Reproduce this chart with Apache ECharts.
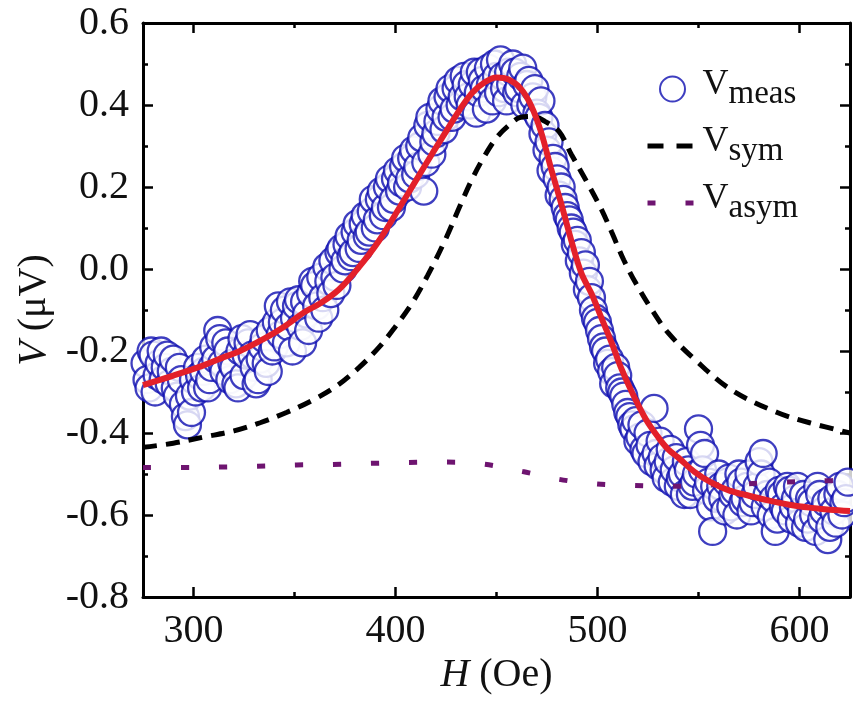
<!DOCTYPE html>
<html>
<head>
<meta charset="utf-8">
<script src="https://cdn.jsdelivr.net/npm/echarts@6/dist/echarts.min.js"></script>
<style>html,body{margin:0;padding:0;background:#fff;}#c{width:853px;height:705px;}</style>
</head>
<body>
<div id="c"></div>
<script>
// ---- data ----
const measH = [276,278,280,282,284,286,288,290,292,294,296,297,298,300,302,304,306,308,310,312,314,316,318,320,322,324,326,328,330,332,334,336,338,340,342,344,346,348,350,352,354,356,358,360,362,364,366,368,370,372,374,376,378,380,382,384,386,388,390,392,394,396,398,400,402,404,406,408,410,412,414,416,418,420,422,424,426,428,430,432,434,436,438,440,442,444,446,448,450,452,454,456,458,460,462,464,466,468,470,472,474,476,478,480,482,484,486,488,490,492,494,496,497,498,500,502,504,506,508,510,512,514,516,518,520,522,524,526,528,530,532,534,536,538,540,542,544,546,548,550,551,552,554,556,557,558,560,562,564,566,568,570,572,574,576,578,580,582,584,586,588,590,592,594,596,598,600,602,604,606,608,610,612,614,616,618,620,622,624];
const measV = [-0.23,-0.29,-0.21,-0.26,-0.20,-0.24,-0.28,-0.22,-0.31,-0.27,-0.36,-0.38,-0.31,-0.27,-0.24,-0.29,-0.22,-0.27,-0.19,-0.15,-0.23,-0.18,-0.27,-0.24,-0.29,-0.17,-0.21,-0.16,-0.24,-0.27,-0.19,-0.23,-0.15,-0.19,-0.09,-0.13,-0.18,-0.08,-0.12,-0.075,-0.18,-0.11,-0.06,-0.04,-0.12,-0.07,0.005,-0.06,-0.02,0.04,0.00,0.06,0.03,0.09,0.05,0.11,0.08,0.14,0.10,0.17,0.13,0.20,0.15,0.22,0.19,0.25,0.20,0.27,0.23,0.30,0.19,0.35,0.28,0.33,0.39,0.34,0.42,0.37,0.44,0.40,0.47,0.42,0.45,0.38,0.48,0.44,0.49,0.41,0.47,0.51,0.44,0.48,0.50,0.43,0.47,0.40,0.46,0.42,0.38,0.41,0.35,0.31,0.27,0.22,0.20,0.15,0.12,0.09,0.07,0.04,0.01,-0.03,-0.07,-0.10,-0.13,-0.17,-0.20,-0.22,-0.28,-0.26,-0.30,-0.33,-0.36,-0.39,-0.42,-0.38,-0.45,-0.43,-0.34,-0.48,-0.46,-0.51,-0.44,-0.49,-0.53,-0.50,-0.47,-0.55,-0.52,-0.39,-0.43,-0.49,-0.54,-0.58,-0.64,-0.53,-0.50,-0.56,-0.52,-0.58,-0.54,-0.50,-0.57,-0.53,-0.59,-0.55,-0.47,-0.45,-0.55,-0.60,-0.64,-0.54,-0.58,-0.53,-0.61,-0.56,-0.62,-0.55,-0.61,-0.57,-0.64,-0.55,-0.59,-0.66,-0.56,-0.62,-0.53,-0.57,-0.52];
// second sweep of measured points (H, V)
const meas2 = [[277,-0.27],[279,-0.20],[281,-0.30],[283,-0.23],[285,-0.27],[287,-0.21],[289,-0.25],[291,-0.29],[293,-0.24],[295,-0.33],
[299,-0.35],[301,-0.30],[303,-0.26],[305,-0.25],[307,-0.29],[309,-0.24],[311,-0.22],[313,-0.17],[315,-0.25],[317,-0.20],
[319,-0.23],[321,-0.28],[323,-0.20],[325,-0.26],[327,-0.18],[329,-0.21],[331,-0.28],[333,-0.22],[335,-0.17],[337,-0.25],
[339,-0.20],[341,-0.13],[343,-0.16],[345,-0.10],[347,-0.14],[349,-0.20],[351,-0.09],[353,-0.14],[355,-0.08],[357,-0.15],
[359,-0.03],[361,-0.09],[363,-0.02],[365,-0.10],[367,-0.03],[369,0.02],[371,-0.04],[373,0.05],[375,0.02],[377,0.08],
[379,0.04],[381,0.11],[383,0.07],[385,0.13],[387,0.09],[389,0.17],[391,0.12],[393,0.19],[395,0.15],[397,0.22],
[399,0.17],[401,0.24],[403,0.21],[405,0.27],[407,0.22],[409,0.29],[411,0.25],[413,0.32],[415,0.26],[417,0.37],
[419,0.31],[421,0.36],[423,0.41],[425,0.37],[427,0.44],[429,0.39],[431,0.46],[433,0.42],[435,0.45],[437,0.40],
[439,0.48],[441,0.43],[443,0.46],[445,0.39],[447,0.45],[449,0.50],[451,0.43],[453,0.47],[455,0.41],[457,0.45],
[459,0.48],[461,0.44],[463,0.49],[465,0.45],[467,0.40],[469,0.44],[471,0.37],[473,0.33],[475,0.29],[477,0.24],
[479,0.25],[481,0.18],[483,0.17],[485,0.13],[487,0.10],[489,0.06],[491,0.02],[493,-0.01],[495,-0.05],[499,-0.12],
[501,-0.15],[503,-0.19],[505,-0.23],[507,-0.25],[509,-0.24],[511,-0.29],[513,-0.31],[515,-0.35],[517,-0.38],[519,-0.37],
[521,-0.41],[523,-0.44],[525,-0.40],[527,-0.47],[529,-0.45],[531,-0.42],[533,-0.49],[535,-0.47],[537,-0.52],[539,-0.46],
[541,-0.51],[543,-0.55],[545,-0.49],[547,-0.53],[549,-0.50],[553,-0.45],[555,-0.52],[559,-0.56],[561,-0.53],[563,-0.59],
[565,-0.51],[567,-0.55],[569,-0.60],[571,-0.52],[573,-0.56],[575,-0.50],[577,-0.57],[579,-0.53],[581,-0.50],[583,-0.58],
[585,-0.52],[587,-0.56],[589,-0.61],[591,-0.55],[593,-0.59],[595,-0.54],[597,-0.58],[599,-0.53],[601,-0.59],[603,-0.63],
[605,-0.56],[607,-0.60],[609,-0.53],[611,-0.61],[613,-0.57],[615,-0.63],[617,-0.59],[619,-0.55],[621,-0.60],[623,-0.56]];

const fitH = [275,290,305,315,323,335,345,355,363,372,382,392,402,410,418,425,432,438,444,450,456,462,467,472,477,482,487,492,497,502,507,512,517,524,530,535,540,548,556,565,575,585,595,605,615,625];
const fitV = [-0.283,-0.26,-0.235,-0.215,-0.20,-0.17,-0.14,-0.105,-0.083,-0.05,0.005,0.07,0.15,0.215,0.28,0.335,0.39,0.43,0.455,0.467,0.462,0.44,0.40,0.335,0.245,0.16,0.07,-0.01,-0.06,-0.12,-0.18,-0.245,-0.30,-0.367,-0.41,-0.44,-0.46,-0.495,-0.52,-0.54,-0.553,-0.565,-0.575,-0.582,-0.587,-0.59];

const symH = [275,290,305,320,333,346,359,371,382,392,400,408,416,425,432,438,444,450,456,462,468,474,481,487,495,502,507,513,519,527,535,548,566,589,605,625];
const symV = [-0.435,-0.425,-0.41,-0.395,-0.375,-0.35,-0.32,-0.285,-0.24,-0.19,-0.14,-0.085,-0.015,0.075,0.155,0.22,0.275,0.32,0.35,0.37,0.372,0.36,0.335,0.28,0.21,0.145,0.09,0.022,-0.035,-0.10,-0.156,-0.22,-0.294,-0.35,-0.375,-0.40];

const asymH = [275,294,313,331,351,369,388,406,425,444,463,481,499,517,536,555,573,592,610,625];
const asymV = [-0.484,-0.484,-0.483,-0.481,-0.478,-0.477,-0.474,-0.472,-0.471,-0.476,-0.494,-0.513,-0.524,-0.528,-0.53,-0.527,-0.524,-0.52,-0.517,-0.515];

const xMajor = [300,400,500,600];
const xMinor = [350,450,550];

const zip = (a, b) => a.map((v, i) => [v, b[i]]);
const FONT = 'Liberation Serif';

const measData = zip(measH, measV).concat(meas2).sort((a, b) => a[0] - b[0]);

const chart = echarts.init(document.getElementById('c'), null, {renderer: 'canvas'});

const baseX = {type: 'value', min: 275, max: 625, gridIndex: 0, splitLine: {show: false}};
const lineAx = {show: true, onZero: false, lineStyle: {color: '#000', width: 3}};
const option = {
  animation: false,
  backgroundColor: '#fff',
  grid: {left: 143, right: 3, top: 23, bottom: 108, containLabel: false},
  legend: {
    data: [
      {name: 'Vmeas'},
      {name: 'Vsym', itemStyle: {opacity: 0}, lineStyle: {width: 5, type: [16, 13]}},
      {name: 'Vasym', itemStyle: {opacity: 0}, lineStyle: {width: 5}}
    ],
    orient: 'vertical',
    left: 645, top: 67,
    padding: 0, itemGap: 13,
    itemWidth: 50, itemHeight: 25,
    formatter: n => '{v|V}{s|' + n.slice(1) + '}',
    textStyle: {
      fontFamily: FONT, color: '#111',
      rich: {
        v: {fontSize: 36, fontFamily: FONT, lineHeight: 44, verticalAlign: 'top', color: '#111'},
        s: {fontSize: 33, fontFamily: FONT, lineHeight: 44, verticalAlign: 'bottom', color: '#111'}
      }
    }
  },
  xAxis: [
    Object.assign({}, baseX, {
      position: 'bottom',
      axisLine: lineAx,
      axisTick: {show: true, inside: true, length: 10, lineStyle: {color: '#000', width: 2.5}, customValues: xMajor},
      axisLabel: {show: true, margin: 14, fontSize: 40, fontFamily: FONT, color: '#111', customValues: xMajor},
      name: '{i|H} (Oe)',
      nameLocation: 'middle', nameGap: 58,
      nameTextStyle: {fontSize: 40, fontFamily: FONT, color: '#111', rich: {i: {fontSize: 40, fontFamily: FONT, fontStyle: 'italic', color: '#111'}}}
    }),
    Object.assign({}, baseX, {
      position: 'bottom',
      axisLine: {show: false, onZero: false},
      axisTick: {show: true, inside: true, length: 5, lineStyle: {color: '#000', width: 2.5}, customValues: xMinor},
      axisLabel: {show: false}
    }),
    Object.assign({}, baseX, {
      position: 'top',
      axisLine: lineAx,
      axisTick: {show: true, inside: true, length: 10, lineStyle: {color: '#000', width: 2.5}, customValues: xMajor},
      axisLabel: {show: false}
    }),
    Object.assign({}, baseX, {
      position: 'top',
      axisLine: {show: false, onZero: false},
      axisTick: {show: true, inside: true, length: 5, lineStyle: {color: '#000', width: 2.5}, customValues: xMinor},
      axisLabel: {show: false}
    })
  ],
  yAxis: [
    {
      type: 'value', min: -0.8, max: 0.6, interval: 0.2, position: 'left',
      splitLine: {show: false},
      axisLine: lineAx,
      axisTick: {show: true, inside: true, length: 10, lineStyle: {color: '#000', width: 2.5}},
      minorTick: {show: true, splitNumber: 2, length: 5, lineStyle: {color: '#000', width: 2.5}},
      axisLabel: {margin: 14, fontSize: 40, fontFamily: FONT, color: '#111', formatter: v => v.toFixed(1)},
      name: '{i|V} (μV)',
      nameLocation: 'middle', nameGap: 86,
      nameTextStyle: {fontSize: 40, fontFamily: FONT, color: '#111', rich: {i: {fontSize: 40, fontFamily: FONT, fontStyle: 'italic', color: '#111'}}}
    },
    {
      type: 'value', min: -0.8, max: 0.6, interval: 0.2, position: 'right',
      splitLine: {show: false},
      axisLine: lineAx,
      axisTick: {show: true, inside: true, length: 10, lineStyle: {color: '#000', width: 2.5}},
      minorTick: {show: true, splitNumber: 2, length: 5, lineStyle: {color: '#000', width: 2.5}},
      axisLabel: {show: false}
    }
  ],
  series: [
    {
      name: 'Vmeas', type: 'scatter', xAxisIndex: 0, yAxisIndex: 0,
      data: measData,
      symbol: 'circle', symbolSize: 27,
      itemStyle: {color: '#ffffff', borderColor: '#0e0eb0', borderWidth: 2.3},
      z: 2
    },
    {
      name: 'Vsym', type: 'line', xAxisIndex: 0, yAxisIndex: 0,
      data: zip(symH, symV), smooth: 0.35, symbol: 'none',
      lineStyle: {color: '#000', width: 5, type: [14, 9]},
      itemStyle: {color: '#000'},
      z: 3
    },
    {
      name: 'Vasym', type: 'line', xAxisIndex: 0, yAxisIndex: 0,
      data: zip(asymH, asymV), smooth: 0.35, symbol: 'none',
      lineStyle: {color: '#6e1470', width: 5, type: [8, 30]},
      itemStyle: {color: '#6e1470'},
      z: 3
    },
    {
      name: 'fit', type: 'line', xAxisIndex: 0, yAxisIndex: 0,
      data: zip(fitH, fitV), smooth: 0.35, symbol: 'none',
      lineStyle: {color: '#e3202a', width: 6},
      z: 4
    }
  ]
};
chart.setOption(option);
</script>
</body>
</html>
